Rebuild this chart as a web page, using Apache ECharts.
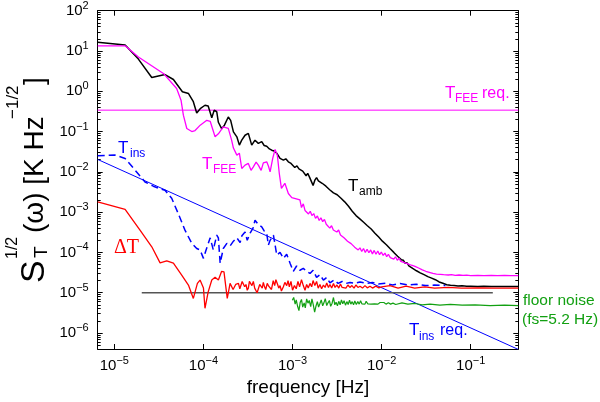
<!DOCTYPE html>
<html>
<head>
<meta charset="utf-8">
<title>temperature noise spectra</title>
<script src="https://cdn.jsdelivr.net/npm/echarts@6/dist/echarts.min.js"></script>
<style>
    html, body { margin: 0; padding: 0; background: #fff; }
    #tpl-echarts-A { width: 600px; height: 402px; }
</style>
</head>
<body>
<div id="tpl-echarts-A"></div>
<script>
// axis ranges (Hz, K Hz^-1/2)
var xRange = [6.5e-6, 0.342];
var yRange = [4e-7, 100];

// T_amb, black
var tAmb = [[6.5e-6,16.5],[1.32e-5,14.1],[1.86e-5,6.3],[2.63e-5,2.2],[3.7e-5,2.6],[4.6e-5,1.96],[5.8e-5,0.97],[6.8e-5,0.88],[7.7e-5,0.55],[8.4e-5,0.29],[9.2e-5,0.37],[1.04e-4,0.45],[1.13e-4,0.43],[1.24e-4,0.22],[1.32e-4,0.34],[1.41e-4,0.31],[1.47e-4,0.17],[1.6e-4,0.118],[1.72e-4,0.144],[1.79e-4,0.158],[1.9e-4,0.23],[2.02e-4,0.19],[2.17e-4,0.098],[2.37e-4,0.074],[2.53e-4,0.046],[2.69e-4,0.061],[2.93e-4,0.081],[3.19e-4,0.09],[3.48e-4,0.046],[3.79e-4,0.061],[4.13e-4,0.051],[4.51e-4,0.056],[4.8e-4,0.045],[5.13e-4,0.043],[5.5e-4,0.037],[5.84e-4,0.0345],[6.2e-4,0.033],[6.65e-4,0.029],[7.24e-4,0.0215],[7.5e-4,0.024],[7.89e-4,0.0195],[8.4e-4,0.021],[8.97e-4,0.0177],[9.5e-4,0.0165],
    [1.0e-3,0.015],[1.06e-3,0.0128],[1.12e-3,0.014],[1.18e-3,0.0118],[1.24e-3,0.0125],[1.3e-3,0.0104],[1.36e-3,0.0112],[1.42e-3,0.008],[1.48e-3,0.0092],[1.55e-3,0.0074],[1.62e-3,0.008],[1.7e-3,0.0046],[1.78e-3,0.0062],[1.86e-3,0.0072],[1.95e-3,0.006],[2.05e-3,0.0064],[2.15e-3,0.0052],[2.26e-3,0.0056],[2.37e-3,0.0044],[2.49e-3,0.0046],[2.61e-3,0.0036],[2.74e-3,0.0039],[2.88e-3,0.003],[3.02e-3,0.0033],[3.17e-3,0.0027],[3.33e-3,0.0028],[3.5e-3,0.0022],[3.67e-3,0.0023],[3.85e-3,0.0018],[4.05e-3,0.0018],[4.25e-3,0.0014],[4.46e-3,0.0013],[4.68e-3,0.00105],[4.92e-3,0.00108],[5.16e-3,0.00082],[5.42e-3,0.00088],[5.69e-3,0.00068],[5.98e-3,0.0007],[6.28e-3,0.00056],[6.59e-3,0.0006],[6.92e-3,0.00046],[7.27e-3,0.00048],[7.63e-3,0.00038],[8.01e-3,0.00041],[8.41e-3,0.0003],[8.83e-3,0.00032],[9.27e-3,0.00024],[9.74e-3,0.00026],
    [1.02e-2,0.00019],[1.07e-2,0.0002],[1.13e-2,0.000155],[1.18e-2,0.000165],[1.24e-2,0.000125],[1.3e-2,0.00013],[1.37e-2,0.0001],[1.44e-2,0.000098],[1.51e-2,0.00008],[1.58e-2,0.000082],[1.66e-2,0.000066],[1.75e-2,0.000064],[1.83e-2,0.000054],[1.93e-2,0.000055],[2.02e-2,0.000046],[2.12e-2,0.000047],[2.23e-2,0.00004],[2.34e-2,0.000039],[2.46e-2,0.000035],[2.58e-2,0.000034],[2.71e-2,0.000031],[2.85e-2,0.000031],[2.99e-2,0.000028],[3.14e-2,0.000028],[3.3e-2,0.000025],[3.46e-2,0.000026],[3.64e-2,0.000023],[3.82e-2,0.000023],[4.01e-2,0.000021],[4.21e-2,0.0000205],[4.42e-2,0.0000185],[4.64e-2,0.000019],[4.87e-2,0.0000172],[5.12e-2,0.0000168],[5.37e-2,0.0000158],[5.64e-2,0.000016],[5.92e-2,0.0000152],[6.5e-2,0.000015],[7.2e-2,0.0000146],[8.0e-2,0.0000148],[9.0e-2,0.0000144],[0.1,0.0000145],[0.12,0.0000143],[0.14,0.0000144],[0.17,0.0000143],[0.2,0.0000142],[0.24,0.0000143],[0.28,0.0000142],[0.342,0.0000142]];

// T_FEE, magenta
var tFee = [[6.5e-6,13.4],[1.32e-5,13.4],[1.86e-5,7.1],[3.55e-5,2.77],[5.0e-5,1.17],[5.6e-5,0.6],[5.95e-5,0.255],[6.5e-5,0.119],[7.4e-5,0.1],[8.05e-5,0.106],[9.2e-5,0.144],[1.09e-4,0.19],[1.19e-4,0.18],[1.35e-4,0.074],[1.47e-4,0.088],[1.67e-4,0.13],[1.9e-4,0.12],[2.07e-4,0.061],[2.17e-4,0.039],[2.37e-4,0.026],[2.53e-4,0.029],[2.69e-4,0.0121],[2.93e-4,0.0147],[3.19e-4,0.0162],[3.42e-4,0.0109],[3.63e-4,0.0133],[3.9e-4,0.0174],[4.13e-4,0.0147],[4.44e-4,0.0109],[4.7e-4,0.0167],[5.13e-4,0.0177],[5.37e-4,0.0138],[5.6e-4,0.01],[5.99e-4,0.0215],[6.37e-4,0.036],[6.75e-4,0.026],[7.1e-4,0.0091],[7.5e-4,0.0039],[8.2e-4,0.0052],[8.97e-4,0.0029],[9.8e-4,0.0023],
    [1.21e-3,0.002],[1.26e-3,0.0013],[1.32e-3,0.0016],[1.38e-3,0.0011],[1.44e-3,0.0012],[1.51e-3,0.0009],[1.58e-3,0.00105],[1.65e-3,0.00082],[1.73e-3,0.00092],[1.81e-3,0.0007],[1.9e-3,0.0008],[1.99e-3,0.00062],[2.08e-3,0.00072],[2.18e-3,0.00058],[2.28e-3,0.00066],[2.39e-3,0.0005],[2.5e-3,0.00054],[2.62e-3,0.0004],[2.74e-3,0.00046],[2.87e-3,0.00036],[3.0e-3,0.0004],[3.14e-3,0.00032],[3.29e-3,0.00036],[3.45e-3,0.00027],[3.61e-3,0.00029],[3.78e-3,0.00023],[3.96e-3,0.00025],[4.14e-3,0.00019],[4.34e-3,0.00021],[4.54e-3,0.000165],[4.76e-3,0.00018],[4.98e-3,0.000135],[5.21e-3,0.00015],[5.46e-3,0.000115],[5.71e-3,0.00013],[5.98e-3,0.000105],[6.26e-3,0.000125],[6.56e-3,0.0001],[6.87e-3,0.00012],[7.19e-3,0.000098],[7.53e-3,0.000115],[7.88e-3,0.000092],[8.25e-3,0.000112],[8.64e-3,0.00009],[9.05e-3,0.000108],[9.47e-3,0.000088],[9.92e-3,0.000102],
    [1.04e-2,0.000084],[1.09e-2,0.000096],[1.14e-2,0.000078],[1.19e-2,0.00009],[1.25e-2,0.000074],[1.31e-2,0.000082],[1.37e-2,0.000068],[1.43e-2,0.000078],[1.5e-2,0.000064],[1.57e-2,0.000072],[1.64e-2,0.00006],[1.72e-2,0.000066],[1.8e-2,0.000056],[1.89e-2,0.000062],[1.97e-2,0.000052],[2.07e-2,0.000056],[2.16e-2,0.000048],[2.27e-2,0.000052],[2.37e-2,0.000045],[2.49e-2,0.000048],[2.6e-2,0.000041],[2.73e-2,0.000043],[2.86e-2,0.000037],[2.99e-2,0.000038],[3.13e-2,0.000034],[3.28e-2,0.000035],[3.43e-2,0.000032],[3.59e-2,0.000033],[3.76e-2,0.00003],[3.94e-2,0.0000305],[4.13e-2,0.000029],[4.32e-2,0.0000298],[4.53e-2,0.0000285],[4.74e-2,0.000029],[4.96e-2,0.000028],[5.2e-2,0.0000285],[5.6e-2,0.0000275],[6.1e-2,0.000028],[6.7e-2,0.000027],[7.4e-2,0.0000275],[8.2e-2,0.0000268],[9.0e-2,0.0000272],[0.1,0.0000266],[0.12,0.000027],[0.14,0.0000265],[0.17,0.0000268],[0.2,0.0000264],[0.24,0.0000267],[0.28,0.0000264],[0.342,0.0000265]];

// T_ins, blue dashed
var tIns = [[6.5e-6,0.0252],[1.02e-5,0.026],[1.32e-5,0.0215],[1.71e-5,0.011],[2.21e-5,0.0056],[2.74e-5,0.0044],[3.26e-5,0.0038],[3.7e-5,0.0035],[4.4e-5,0.0022],[5.2e-5,0.00093],[6.2e-5,0.000357],[7.4e-5,0.000167],[8.4e-5,0.000125],[9.16e-5,0.000115],[1.0e-4,0.000071],[1.07e-4,0.000115],[1.19e-4,0.00023],[1.29e-4,0.000115],[1.41e-4,0.00027],[1.47e-4,0.00023],[1.54e-4,0.000054],[1.67e-4,0.000125],[1.83e-4,0.000167],[1.99e-4,0.000145],[2.17e-4,0.00019],[2.37e-4,0.00023],[2.58e-4,0.000175],[2.7e-4,0.00026],[2.93e-4,0.00032],[3.1e-4,0.0002],[3.34e-4,0.0003],[3.6e-4,0.0004],[3.79e-4,0.00063],[4.1e-4,0.0005],[4.51e-4,0.00043],[4.8e-4,0.00034],[5.13e-4,0.0003],[5.35e-4,0.000152],[5.6e-4,0.0002],[6.1e-4,0.00027],[6.65e-4,0.000086],[7.24e-4,0.0001],[7.89e-4,0.000071],[8.6e-4,0.00009],[9.38e-4,0.000054],
    [1.02e-3,0.000034],[1.11e-3,0.000046],[1.21e-3,0.000036],[1.32e-3,0.00004],[1.44e-3,0.000034],[1.57e-3,0.00003],[1.7e-3,0.000036],[1.86e-3,0.000024],[2.03e-3,0.000028],[2.22e-3,0.0000206],[2.42e-3,0.000024],[2.63e-3,0.0000175],[2.93e-3,0.0000206],[3.25e-3,0.000017],[3.6e-3,0.000019],[4.0e-3,0.000017],[4.42e-3,0.000018],[5.0e-3,0.000017],[5.72e-3,0.0000185],[6.7e-3,0.000017],[7.9e-3,0.000018],[9.2e-3,0.0000165],[1.1e-2,0.0000172],[1.33e-2,0.0000155],[1.61e-2,0.000017],[1.99e-2,0.0000155],[2.45e-2,0.0000162],[3.1e-2,0.000015],[3.9e-2,0.0000155],[5.2e-2,0.000015]];

// Delta T, red
var dT = [[6.5e-6,0.0018],[1.32e-5,0.00117],[1.94e-5,0.000357],[2.63e-5,0.000138],[3.26e-5,0.000055],[3.87e-5,0.000062],[4.6e-5,0.000054],[5.7e-5,0.0000273],[6.78e-5,0.0000155],[7.7e-5,0.0000072],[8.55e-5,0.000017],[9.16e-5,0.0000206],[1.0e-4,0.000013],[1.04e-4,0.0000041],[1.13e-4,0.0000105],[1.24e-4,0.0000206],[1.35e-4,0.000024],[1.47e-4,0.0000206],[1.6e-4,0.000034],[1.7e-4,0.000033],[1.85e-4,0.0000072],[1.99e-4,0.000017],[2.15e-4,0.000012],[2.3e-4,0.000016],
    [2.47e-4,0.000017],[2.56e-4,0.0000125],[2.65e-4,0.000014],[2.72e-4,0.000019],[2.8e-4,0.000021],[2.9e-4,0.000014],[3.0e-4,0.000016],[3.1e-4,0.0000115],[3.19e-4,0.000013],[3.28e-4,0.000019],[3.37e-4,0.00002],[3.5e-4,0.000015],[3.63e-4,0.000019],[3.76e-4,0.000013],[3.9e-4,0.000014],[4.0e-4,0.00001],[4.13e-4,0.000011],[4.28e-4,0.000016],[4.44e-4,0.0000175],[4.57e-4,0.000013],[4.7e-4,0.000018],[4.85e-4,0.000014],[5.0e-4,0.000012],[5.2e-4,0.000017],[5.4e-4,0.0000145],[5.6e-4,0.000016],[5.8e-4,0.000012],[6.07e-4,0.00002],[6.3e-4,0.000015],[6.5e-4,0.000021],[6.8e-4,0.000016],[7.0e-4,0.000013],[7.24e-4,0.000015],[7.5e-4,0.000011],[7.89e-4,0.000014],[8.2e-4,0.000018],[8.6e-4,0.000015],[8.9e-4,0.00002],[9.2e-4,0.000014],[9.6e-4,0.000019],
    [1.0e-3,0.0000115],[1.05e-3,0.000015],[1.1e-3,0.0000125],[1.15e-3,0.000019],[1.2e-3,0.000014],[1.26e-3,0.000021],[1.32e-3,0.000015],[1.38e-3,0.0000115],[1.44e-3,0.000016],[1.5e-3,0.000013],[1.57e-3,0.000017],[1.64e-3,0.000014],[1.7e-3,0.00002],[1.78e-3,0.000015],[1.86e-3,0.000019],[1.94e-3,0.000013],[2.03e-3,0.000016],[2.12e-3,0.0000125],[2.22e-3,0.0000155],[2.32e-3,0.0000135],[2.42e-3,0.0000175],[2.53e-3,0.0000135],[2.63e-3,0.000016],[2.75e-3,0.000013],[2.88e-3,0.000017],[3.0e-3,0.0000135],[3.15e-3,0.0000155],[3.3e-3,0.000013],[3.45e-3,0.0000165],[3.6e-3,0.0000135],[3.78e-3,0.000015],[3.97e-3,0.000013],[4.18e-3,0.0000155],[4.4e-3,0.0000135],[4.64e-3,0.000015],[4.9e-3,0.000013],[5.14e-3,0.0000155],[5.42e-3,0.0000135],[5.72e-3,0.0000145],[6.1e-3,0.000013],[6.5e-3,0.000015],[6.9e-3,0.0000132],[7.4e-3,0.0000145],[7.9e-3,0.000013],[8.6e-3,0.0000145],[9.3e-3,0.0000132],
    [1.0e-2,0.000014],[1.24e-2,0.000015],[1.53e-2,0.000013],[1.88e-2,0.0000145],[2.35e-2,0.000013],[3.05e-2,0.000014],[3.94e-2,0.000013],[5.6e-2,0.0000135],[7.9e-2,0.000013],[0.12,0.0000132],[0.18,0.000013],[0.342,0.000013]];

// floor noise (fs=5.2 Hz), green
var floorNoise = [[9.95e-4,0.0000065],[1.03e-3,0.0000076],[1.07e-3,0.0000052],[1.1e-3,0.0000066],[1.14e-3,0.0000046],[1.18e-3,0.0000036],[1.22e-3,0.0000058],[1.26e-3,0.0000068],[1.3e-3,0.0000044],[1.35e-3,0.0000056],[1.39e-3,0.0000042],[1.44e-3,0.000007],[1.49e-3,0.0000055],[1.54e-3,0.0000064],[1.6e-3,0.0000045],[1.65e-3,0.000007],[1.71e-3,0.000005],[1.77e-3,0.0000033],[1.83e-3,0.0000046],[1.9e-3,0.000006],[1.96e-3,0.0000044],[2.03e-3,0.0000054],[2.1e-3,0.0000066],[2.18e-3,0.0000047],[2.25e-3,0.0000056],[2.33e-3,0.0000071],[2.42e-3,0.0000048],[2.5e-3,0.0000056],[2.59e-3,0.0000064],[2.68e-3,0.0000046],[2.78e-3,0.0000055],[2.88e-3,0.0000076],[2.98e-3,0.000005],[3.08e-3,0.0000058],[3.19e-3,0.0000047],[3.3e-3,0.0000061],[3.42e-3,0.000005],[3.54e-3,0.0000066],[3.66e-3,0.0000053],[3.79e-3,0.0000063],[3.93e-3,0.0000049],[4.07e-3,0.000006],[4.21e-3,0.0000051],[4.36e-3,0.0000065],[4.51e-3,0.0000052],[4.67e-3,0.000006],[4.84e-3,0.000005],[5.0e-3,0.0000062],[5.2e-3,0.0000051],[5.4e-3,0.000006],[5.6e-3,0.0000052],[5.8e-3,0.0000063],[6.0e-3,0.0000053],[6.2e-3,0.0000059],[6.5e-3,0.0000052],[6.7e-3,0.0000061],[7.0e-3,0.0000053],[7.3e-3,0.0000059],[7.6e-3,0.0000052],[7.9e-3,0.0000058],[8.3e-3,0.0000053],[8.7e-3,0.0000058],[9.1e-3,0.0000052],[9.6e-3,0.0000057],
    [1.0e-2,0.0000053],[1.06e-2,0.0000057],[1.12e-2,0.0000052],[1.19e-2,0.0000056],[1.26e-2,0.0000052],[1.34e-2,0.0000055],[1.44e-2,0.0000051],[1.69e-2,0.0000056],[1.97e-2,0.0000052],[2.37e-2,0.0000054],[2.85e-2,0.000005],[3.5e-2,0.0000052],[4.5e-2,0.0000049],[5.9e-2,0.0000051],[8.0e-2,0.0000049],[0.112,0.000005],[0.165,0.0000048],[0.24,0.0000049],[0.342,0.0000048]];

// reference levels
var floorRef = [[2.03e-5,1e-5],[0.177,1e-5]];
var feeReq = [[6.5e-6,0.34],[0.342,0.34]];
var insReq = [[6.5e-6,0.0203],[0.342,3.9e-7]];

var FONT = 'Liberation Sans, Arial, Helvetica, sans-serif';

// 10^n tick labels
var expLabel = function (v) {
    var e = Math.log(v) / Math.LN10;
    var r = Math.round(e);
    if (Math.abs(e - r) > 0.01) {
        return '';
    }
    return '{b|10}{s|' + (r < 0 ? '\u2212' + (-r) : r) + '}';
};
var labelRich = {
    b: { fontSize: 15, fontFamily: FONT, color: '#000' },
    s: { fontSize: 11, fontFamily: FONT, color: '#000', padding: [0, 0, 10, 0] }
};

var text = function (x, y, str, size, color, family, rot) {
    return {
        type: 'text',
        x: x,
        y: y,
        rotation: rot || 0,
        silent: true,
        style: {
            text: str,
            fontSize: size,
            fontFamily: family || FONT,
            fill: color,
            textAlign: 'left',
            textVerticalAlign: 'middle',
            align: 'left',
            verticalAlign: 'middle'
        }
    };
};
var R = Math.PI / 2;

var lineSeries = function (name, data, color, width, dash) {
    return {
        name: name,
        type: 'line',
        data: data,
        symbol: 'none',
        showSymbol: false,
        clip: true,
        silent: true,
        lineStyle: { color: color, width: width, type: dash || 'solid' }
    };
};

var xAxisBase = {
    type: 'log',
    logBase: 10,
    min: xRange[0],
    max: xRange[1],
    splitNumber: 5,
    splitLine: { show: false },
    axisLine: { lineStyle: { color: '#000', width: 1 } },
    axisTick: { inside: true, length: 5, lineStyle: { color: '#000' } }
};
var yAxisBase = {
    type: 'log',
    logBase: 10,
    min: yRange[0],
    max: yRange[1],
    splitNumber: 8,
    splitLine: { show: false },
    axisLine: { lineStyle: { color: '#000', width: 1 } },
    axisTick: { inside: true, length: 5, lineStyle: { color: '#000' } },
    minorTick: { show: true, splitNumber: 9, length: 3, lineStyle: { color: '#000' } },
    minorSplitLine: { show: false }
};

var echartsA = echarts.init(document.getElementById('tpl-echarts-A'), null, { renderer: 'canvas' });
var option = {
    animation: false,
    backgroundColor: '#fff',
    grid: { left: 97.7, right: 81.7, top: 10.7, bottom: 53, containLabel: false },
    xAxis: [
        Object.assign({}, xAxisBase, {
            position: 'bottom',
            axisLabel: { formatter: expLabel, rich: labelRich, margin: 6, showMinLabel: true, showMaxLabel: true },
            name: 'frequency [Hz]',
            nameLocation: 'middle',
            nameGap: 28,
            nameTextStyle: { fontSize: 19, fontFamily: FONT, color: '#000' }
        }),
        Object.assign({}, xAxisBase, { position: 'top', axisLabel: { show: false } })
    ],
    yAxis: [
        Object.assign({}, yAxisBase, {
            position: 'left',
            axisLabel: { formatter: expLabel, rich: labelRich, margin: 9 }
        }),
        Object.assign({}, yAxisBase, { position: 'right', axisLabel: { show: false } })
    ],
    series: [
        lineSeries('fee req', feeReq, '#ff00ff', 1),
        lineSeries('ins req', insReq, '#0000ff', 1),
        lineSeries('ref', floorRef, '#555555', 1.5),
        lineSeries('T_amb', tAmb, '#000000', 1.5),
        lineSeries('T_FEE', tFee, '#ff00ff', 1.3),
        lineSeries('T_ins', tIns, '#0000ff', 1.5, [7, 4]),
        lineSeries('dT', dT, '#ff0000', 1.3),
        lineSeries('floor', floorNoise, '#12a012', 1.2)
    ],
    graphic: [
        // curve labels
        text(118, 148, 'T', 17, '#0000ff'),
        text(130, 154, 'ins', 12, '#0000ff'),
        text(202, 164, 'T', 17, '#ff00ff'),
        text(213, 170, 'FEE', 12, '#ff00ff'),
        text(348, 186, 'T', 17, '#000'),
        text(359, 192, 'amb', 12, '#000'),
        text(445, 93, 'T', 17, '#ff00ff'),
        text(455, 99, 'FEE', 12, '#ff00ff'),
        text(482, 94, 'req.', 16, '#ff00ff'),
        text(114, 248, '\u0394T', 20, '#ff0000', 'Liberation Serif, Times New Roman, serif'),
        text(523, 301, 'floor noise', 15.5, '#12a012'),
        text(522, 320, '(fs=5.2 Hz)', 15.5, '#12a012'),
        text(409, 330, 'T', 17, '#0000ff'),
        text(419, 337, 'ins', 12, '#0000ff'),
        text(440, 331, 'req.', 16, '#0000ff'),
        // y axis title, rotated
        text(35, 283, 'S', 34, '#000', FONT, R),
        text(42, 258, 'T', 19, '#000', FONT, R),
        text(13, 259, '1/2', 16, '#000', FONT, R),
        text(35, 233, '(\u03c9) [K Hz', 28, '#000', FONT, R),
        text(13, 119, '\u22121/2', 17, '#000', FONT, R),
        text(35, 85, ']', 28, '#000', FONT, R)
    ]
};
echartsA.setOption(option);
</script>
</body>
</html>
